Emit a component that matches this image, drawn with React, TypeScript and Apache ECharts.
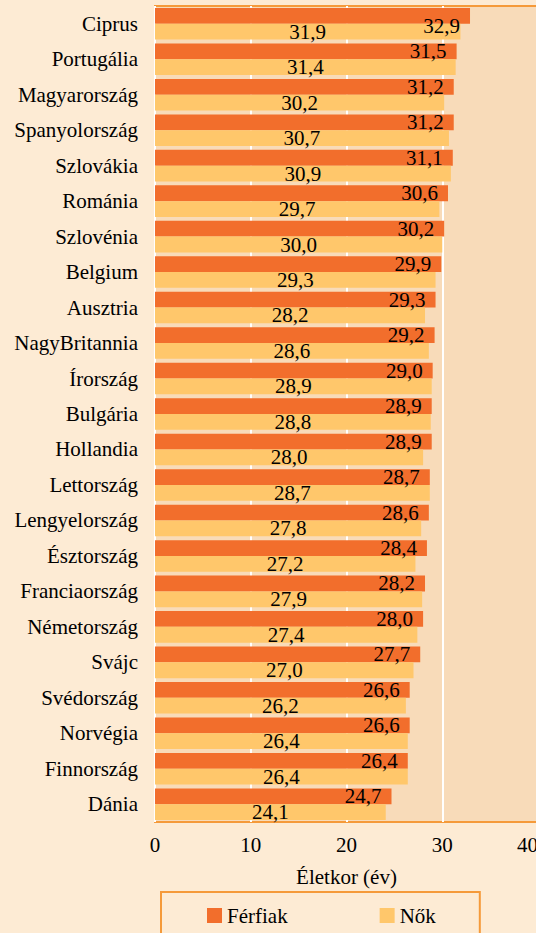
import React, { useEffect, useRef } from "react";
import * as echarts from "echarts";

const categories = [
  "Ciprus", "Portugália", "Magyarország", "Spanyolország", "Szlovákia", "Románia",
  "Szlovénia", "Belgium", "Ausztria", "NagyBritannia", "Írország", "Bulgária",
  "Hollandia", "Lettország", "Lengyelország", "Észtország", "Franciaország",
  "Németország", "Svájc", "Svédország", "Norvégia", "Finnország", "Dánia",
];
const ferfiak = [32.9, 31.5, 31.2, 31.2, 31.1, 30.6, 30.2, 29.9, 29.3, 29.2, 29.0, 28.9, 28.9, 28.7, 28.6, 28.4, 28.2, 28.0, 27.7, 26.6, 26.6, 26.4, 24.7];
const nok = [31.9, 31.4, 30.2, 30.7, 30.9, 29.7, 30.0, 29.3, 28.2, 28.6, 28.9, 28.8, 28.0, 28.7, 27.8, 27.2, 27.9, 27.4, 27.0, 26.2, 26.4, 26.4, 24.1];
const seriesNames = ["Férfiak", "Nők"];
const axisTitle = "Életkor (év)";

const FONT = "Liberation Serif";
const fmt = (v: number) => v.toFixed(1).replace(".", ",");

export default function App() {
  const ref = useRef<HTMLDivElement>(null);
  useEffect(() => {
    if (!ref.current) return;
    const chart = echarts.init(ref.current, undefined, { renderer: "svg" });
    const ts = {
      fontFamily: FONT,
      fontSize: 21,
      fontWeight: "normal",
      fontStyle: "normal",
      color: "#000",
    };
    chart.setOption({
      animation: false,
      backgroundColor: "#FDEBD4",
      textStyle: { fontFamily: FONT },
      grid: {
        left: 155,
        right: -2,
        top: 6,
        bottom: 111,
        outerBoundsMode: "none",
        show: true,
        backgroundColor: "#F8DBB9",
        borderColor: "#F59A3A",
        borderWidth: 2,
      },
      legend: {
        data: seriesNames,
        left: 161,
        top: 892,
        padding: [13, 44, 13, 46],
        itemGap: 92,
        itemWidth: 15,
        itemHeight: 15,
        icon: "rect",
        borderColor: "#F59A3A",
        borderWidth: 2,
        textStyle: { ...ts },
      },
      xAxis: {
        type: "value",
        min: 0,
        max: 40,
        interval: 10,
        name: axisTitle,
        nameLocation: "middle",
        nameGap: 44,
        nameTextStyle: { ...ts },
        axisLine: { show: false },
        axisTick: { show: false },
        axisLabel: { ...ts, margin: 12, alignMaxLabel: "right" },
        splitLine: { show: true, lineStyle: { color: "#FFFFFF", width: 2 } },
      },
      yAxis: {
        type: "category",
        data: categories,
        inverse: true,
        axisLine: { show: false },
        axisTick: { show: false },
        axisLabel: { ...ts, margin: 17 },
      },
      series: [
        {
          name: seriesNames[0],
          type: "bar",
          barGap: "0%",
          barCategoryGap: "11%",
          itemStyle: { color: "#F26E2C" },
          data: ferfiak.map((v, i) => ({
            value: v,
            label: i === 0 ? { offset: [0, 10] } : undefined,
          })),
          label: {
            show: true,
            position: "insideRight",
            distance: 10,
            ...ts,
            formatter: (p: any) => fmt(p.value),
          },
        },
        {
          name: seriesNames[1],
          type: "bar",
          barGap: "0%",
          barCategoryGap: "11%",
          itemStyle: { color: "#FFC76B" },
          data: nok,
          label: {
            show: true,
            position: "inside",
            ...ts,
            formatter: (p: any) => fmt(p.value),
          },
        },
      ],
    });
    return () => chart.dispose();
  }, []);
  return (
    <>
      <style>{`.chart-root svg text { font-family: 'Liberation Serif', 'Times New Roman', serif !important; }`}</style>
      <div
        ref={ref}
        className="chart-root"
        style={{ position: "absolute", left: 0, top: 0, width: 536, height: 933 }}
      />
    </>
  );
}
